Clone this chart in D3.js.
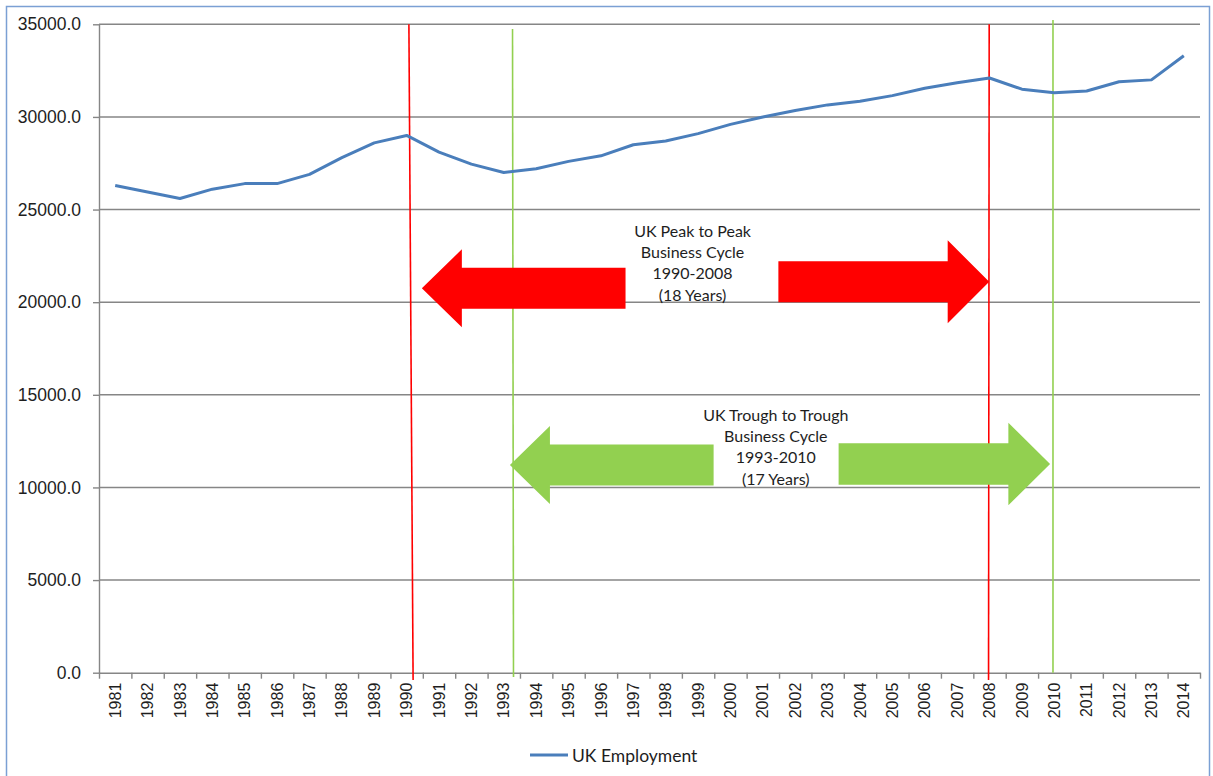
<!DOCTYPE html>
<html>
<head>
<meta charset="utf-8">
<script src="https://cdn.jsdelivr.net/npm/d3@7"></script>
<style>
  body { margin: 0; background: #fff; }
  svg { display: block; font-family: Lato, "Open Sans", sans-serif; }
  .axis path, .axis line { stroke: #868686; stroke-width: 1.4; }
  .axis text { fill: #1e1e1e; font-size: 16px; }
  .y-axis text { font-size: 17.5px; }
  .grid line { stroke: #868686; stroke-width: 1.4; }
  .note { fill: #1e1e1e; font-size: 16px; }
</style>
</head>
<body>
<div class="chart"></div>
<script>
// UK employment (thousands)
const years = d3.range(1981, 2015);
const employment = [
  26300, 25950, 25600, 26100, 26400, 26400, 26900, 27800, 28600, 29000,
  28100, 27450, 27000, 27200, 27600, 27900, 28500, 28700, 29100, 29600,
  30000, 30350, 30650, 30850, 31150, 31550, 31850, 32100, 31500, 31300,
  31400, 31900, 32000, 33300
];
const yTicks = [0, 5000, 10000, 15000, 20000, 25000, 30000, 35000];
const peakYears = [1990, 2008];
const troughYears = [1993, 2010];
const peakLabel = ['UK Peak to Peak', 'Business Cycle', '1990-2008', '(18 Years)'];
const troughLabel = ['UK Trough to Trough', 'Business Cycle', '1993-2010', '(17 Years)'];

const W = 1213, H = 776;
const margin = { top: 24.3, right: 13, bottom: 103.3, left: 99 };
const width = W - margin.left - margin.right;
const height = H - margin.top - margin.bottom;

const red = '#ff0000', green = '#92d050';

const svg = d3.select('.chart').append('svg').attr('width', W).attr('height', H);

// outer chart border
svg.append('rect')
  .attr('x', 6.5).attr('y', 6.5).attr('width', 1203).attr('height', 800)
  .attr('fill', 'none').attr('stroke', '#7ba0d4').attr('stroke-width', 1.5);

const g = svg.append('g').attr('transform', `translate(${margin.left},${margin.top})`);

let xBand = d3.scaleBand().domain(years).range([0, width]);
// continuous year scale for annotations (band centres on whole years)
let xYear = d3.scaleLinear().domain([1980.5, 2014.5]).range([0, width]);
let yScale = d3.scaleLinear().domain([0, 35000]).range([height, 0]);

// gridlines
g.append('g').attr('class', 'grid')
  .selectAll('line').data(yTicks.filter(d => d > 0)).enter().append('line')
  .attr('x1', 0).attr('x2', width)
  .attr('y1', d => yScale(d)).attr('y2', d => yScale(d));

// y axis
g.append('g').attr('class', 'axis y-axis')
  .call(d3.axisLeft(yScale).tickValues(yTicks).tickFormat(d3.format('.1f')).tickSize(6).tickSizeOuter(0).tickPadding(12));

// x axis: ticks between categories, labels rotated
g.append('g').attr('class', 'axis x-ticks')
  .attr('transform', `translate(0,${height})`)
  .call(d3.axisBottom(xYear).tickValues(d3.range(1980.5, 2015, 1)).tickFormat('').tickSize(6).tickSizeOuter(0));

g.append('g').attr('class', 'axis x-axis')
  .attr('transform', `translate(0,${height})`)
  .call(d3.axisBottom(xBand).tickSize(0).tickPadding(0))
  .call(s => s.select('.domain').remove())
  .selectAll('text')
  .attr('transform', 'rotate(-90)')
  .attr('text-anchor', 'end')
  .attr('dy', '0.35em')
  .attr('x', -10)
  .attr('y', 0);

// vertical cycle markers
const markers = [
  { year: peakYears[0], dx0: 0.07, dx1: 0.2, top: 35000, bottom: -400, color: red },
  { year: troughYears[0], dx0: 0.27, dx1: 0.3, top: 34750, bottom: -230, color: green },
  { year: peakYears[1], dx0: -0.01, dx1: -0.03, top: 35000, bottom: -400, color: red },
  { year: troughYears[1], dx0: -0.04, dx1: -0.04, top: 35230, bottom: 0, color: green }
];
g.selectAll('.marker').data(markers).enter().append('line')
  .attr('class', 'marker')
  .attr('x1', d => xYear(d.year + d.dx0)).attr('x2', d => xYear(d.year + d.dx1))
  .attr('y1', d => yScale(d.top)).attr('y2', d => yScale(d.bottom))
  .attr('stroke', d => d.color).attr('stroke-width', 1.6);

// the employment line
let line = d3.line()
  .x((d, i) => xBand(years[i]) + xBand.bandwidth() / 2)
  .y(d => yScale(d));

g.append('path').datum(employment)
  .attr('fill', 'none')
  .attr('stroke', '#4a7ebb')
  .attr('stroke-width', 3)
  .attr('stroke-linejoin', 'round')
  .attr('d', line);

// block arrows
function arrow(tipYear, level, endYear, shaftHalf, headHalf, headLen, color) {
  const tx = xYear(tipYear), ty = yScale(level), ex = xYear(endYear);
  const dir = ex > tx ? 1 : -1;
  const bx = tx + dir * headLen;
  const pts = [
    [tx, ty], [bx, ty - headHalf], [bx, ty - shaftHalf], [ex, ty - shaftHalf],
    [ex, ty + shaftHalf], [bx, ty + shaftHalf], [bx, ty + headHalf]
  ];
  g.append('polygon').attr('points', pts.map(p => p.join(',')).join(' ')).attr('fill', color);
}

arrow(peakYears[0] + 0.47, 20750, 1996.76, 20.5, 39, 40, red);
arrow(peakYears[1] - 0.01, 21100, 2001.48, 20.5, 41.5, 41.5, red);
arrow(troughYears[0] + 0.19, 11210, 1999.48, 20.5, 39, 40, green);
arrow(troughYears[1] - 0.13, 11265, 2003.34, 20.8, 41.3, 41.7, green);

function note(lines, centerYear, firstLevel) {
  g.append('g').selectAll('text').data(lines).enter().append('text')
    .attr('class', 'note')
    .attr('text-anchor', 'middle')
    .attr('dominant-baseline', 'central')
    .attr('x', xYear(centerYear))
    .attr('y', (d, i) => yScale(firstLevel) + i * 21.4)
    .text(d => d);
}
note(peakLabel, 1998.83, 23890);
note(troughLabel, 2001.4, 13960);

// legend
const legend = svg.append('g').attr('transform', `translate(530,755)`);
legend.append('line').attr('x1', 0).attr('x2', 38).attr('y1', 0).attr('y2', 0)
  .attr('stroke', '#4a7ebb').attr('stroke-width', 3);
legend.append('text').attr('x', 42).attr('y', 0).attr('dominant-baseline', 'central')
  .attr('fill', '#1e1e1e').style('font-size', '17.5px').text('UK Employment');
</script>
</body>
</html>
